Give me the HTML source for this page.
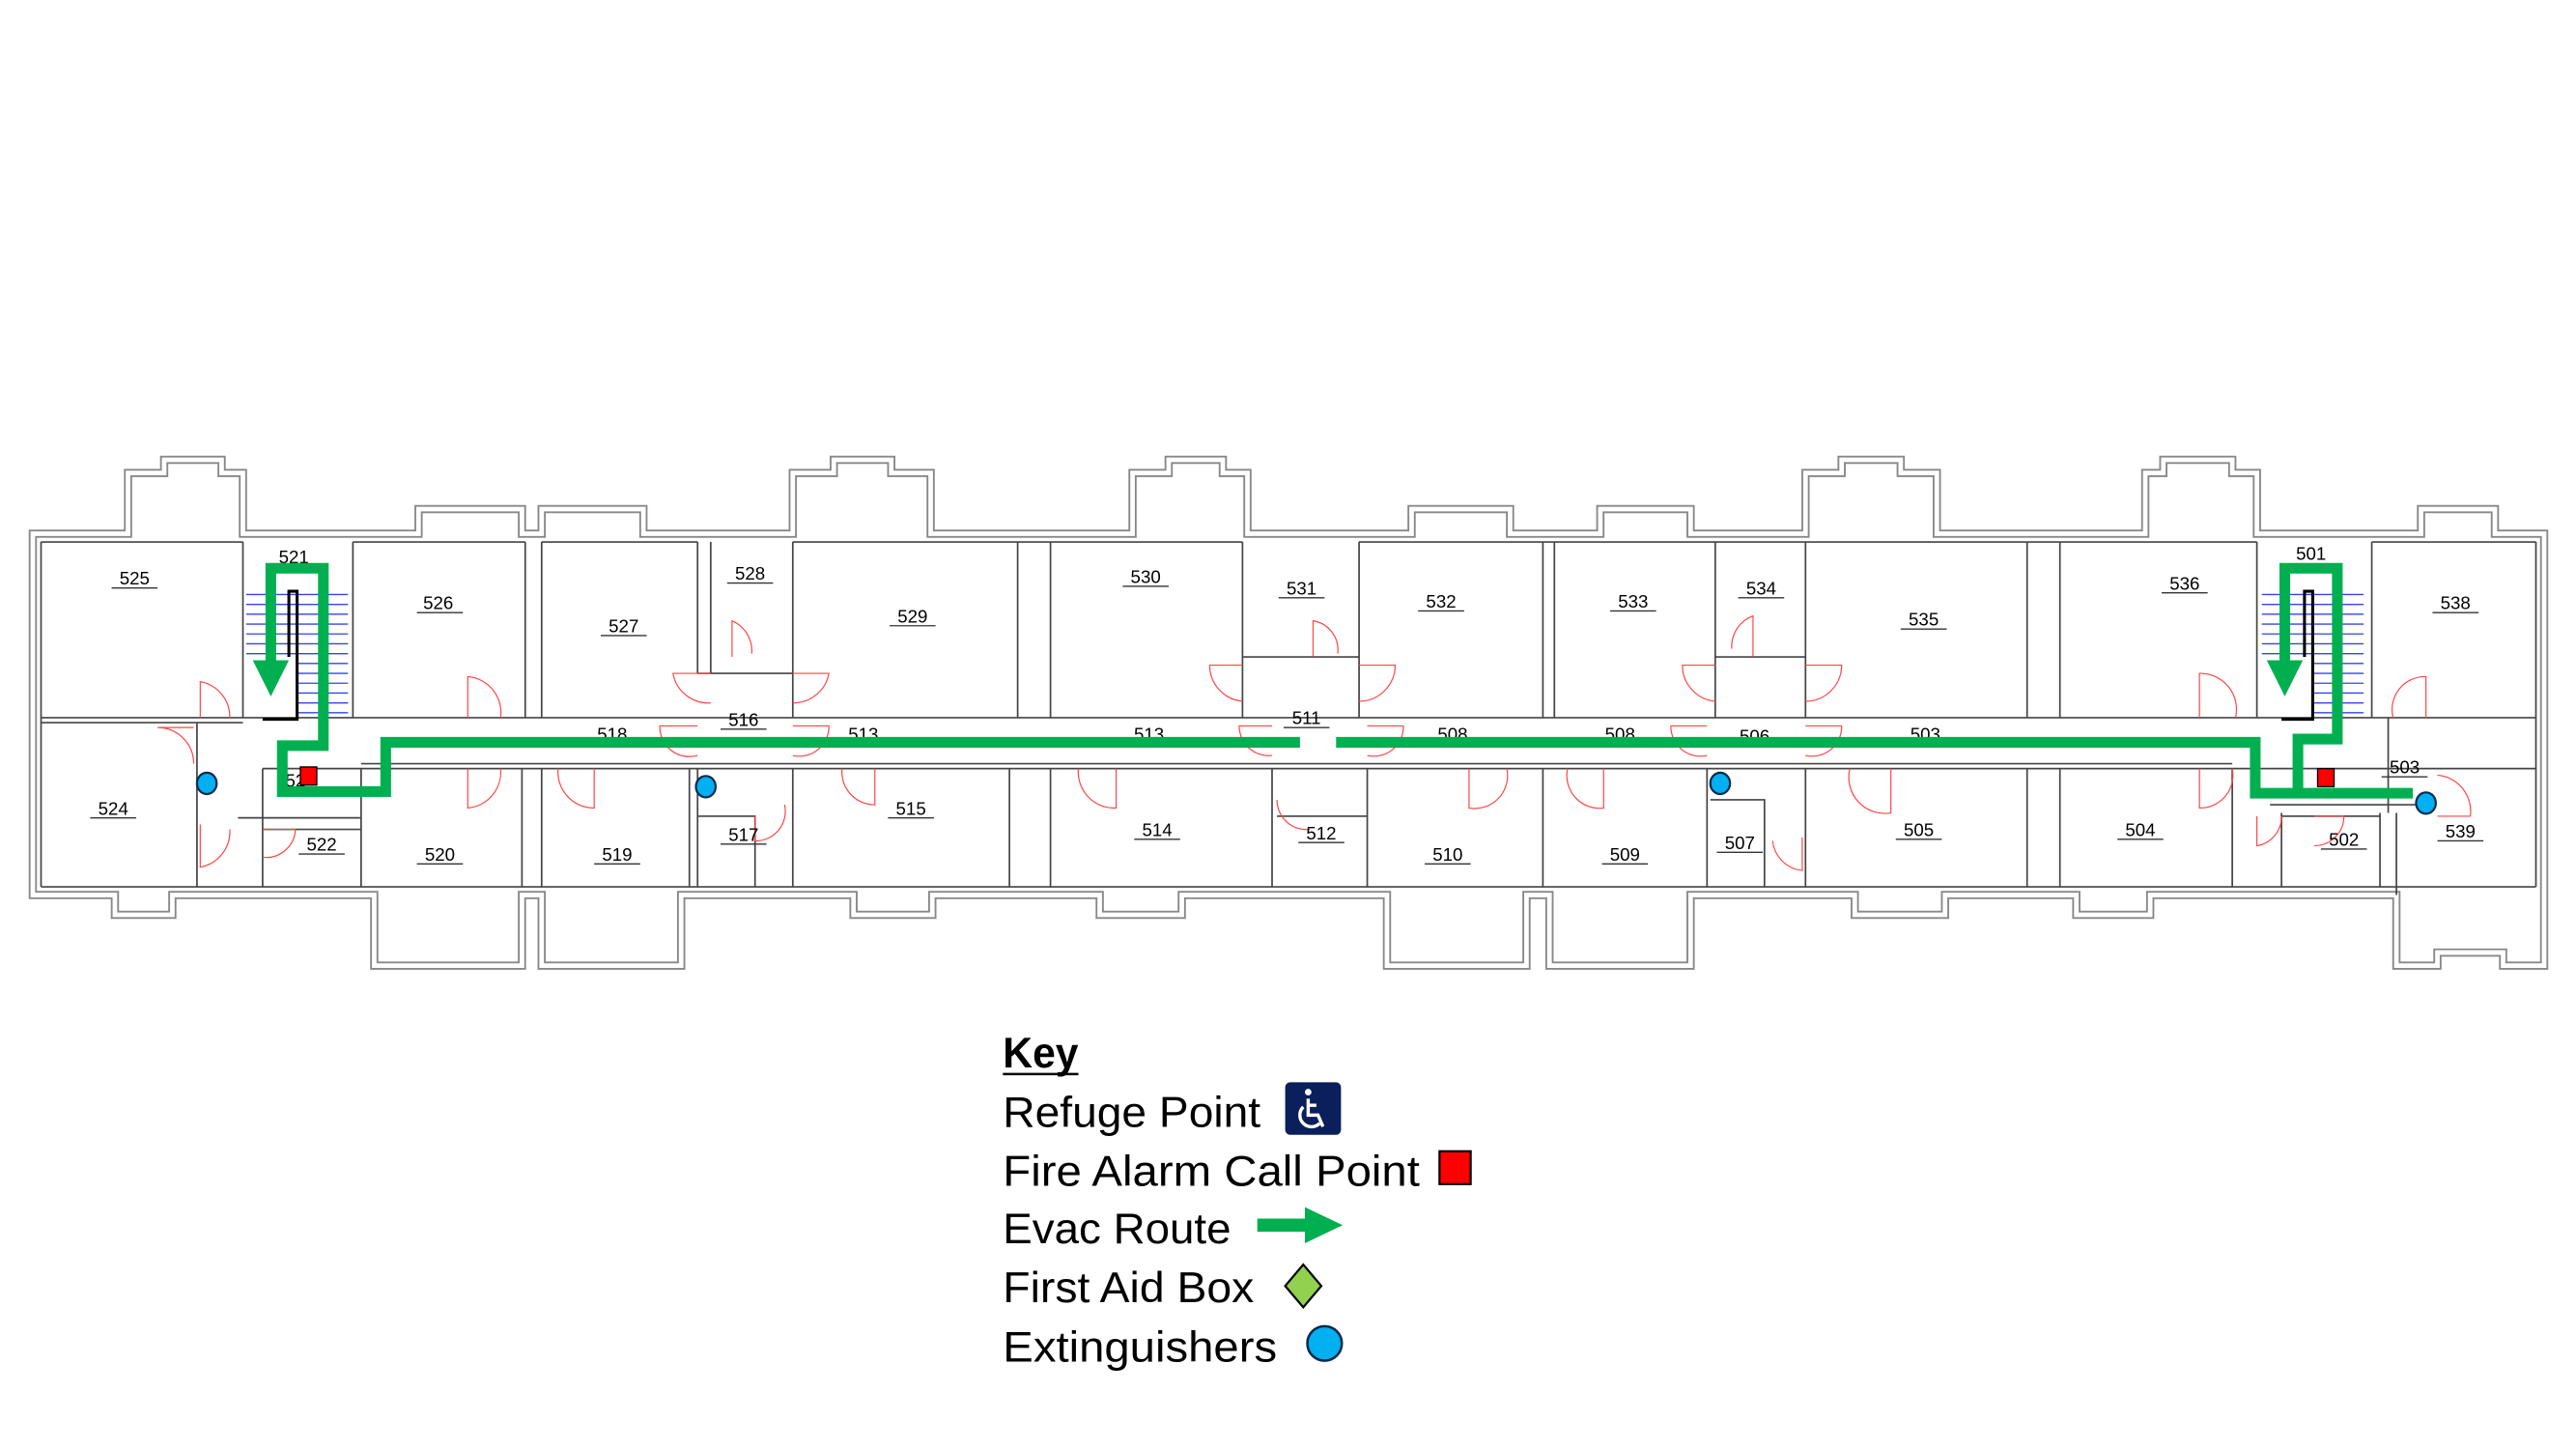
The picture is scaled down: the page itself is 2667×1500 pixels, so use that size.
<!DOCTYPE html>
<html><head><meta charset="utf-8"><style>
html,body{margin:0;padding:0;background:#fff}
svg{display:block}
text{font-family:"Liberation Sans",Arial,sans-serif}
</style></head><body>
<svg width="2667" height="1500" viewBox="0 0 1560 877" preserveAspectRatio="none" xmlns="http://www.w3.org/2000/svg">
<defs>
<path id="outer" d="M20,545 L20,325 L78,325 L78,288 L100,288 L100,280 L135,280 L135,288 L148,288 L148,325 L255,325 L255,310 L318,310 L318,325 L330,325 L330,310 L392,310 L392,325 L483,325 L483,288 L508,288 L508,280 L543,280 L543,288 L567,288 L567,325 L690,325 L690,288 L712,288 L712,280 L745,280 L745,288 L760,288 L760,325 L860,325 L860,310 L920,310 L920,325 L975,325 L975,310 L1030,310 L1030,325 L1100,325 L1100,288 L1122,288 L1122,280 L1158,280 L1158,288 L1180,288 L1180,325 L1307,325 L1307,288 L1318,288 L1318,280 L1360,280 L1360,288 L1375,288 L1375,325 L1475,325 L1475,310 L1520,310 L1520,325 L1550,325 L1550,588 L1525,588 L1525,580 L1485,580 L1485,588 L1460,588 L1460,545 L1310,545 L1310,557 L1265,557 L1265,545 L1185,545 L1185,557 L1130,557 L1130,545 L1030,545 L1030,588 L944,588 L944,545 L930,545 L930,588 L845,588 L845,545 L720,545 L720,557 L670,557 L670,545 L568,545 L568,557 L520,557 L520,545 L415,545 L415,588 L330,588 L330,545 L318,545 L318,588 L228,588 L228,545 L105,545 L105,557 L70,557 L70,545 Z"/>
</defs>
<rect width="1560" height="877" fill="#fff"/>
<g transform="scale(0.994)">
<g fill="none">
<use href="#outer" stroke="#888" stroke-width="5"/>
<use href="#outer" stroke="#fff" stroke-width="2.8"/>
</g>
<g stroke="#444" stroke-width="1" fill="none">
<path d="M25,437 H1545 M160,468 H1545 M25,440 H148 M220,465 H1360"/>
<path d="M148,330 V437 M215,330 V437 M320,330 V437 M330,330 V437 M425,330 V410 M433,330 V410 M483,330 V437 M620,330 V437 M640,330 V437 M757,330 V437 M828,330 V437 M940,330 V437 M947,330 V437 M1045,330 V437 M1100,330 V437 M1235,330 V437 M1255,330 V437 M1375,330 V437 M1445,330 V437"/>
<path d="M757,400 H828 M425,410 H483 M1045,400 H1100"/>
<path d="M120,440 V540 M160,468 V540 M220,468 V540 M318,468 V540 M330,468 V540 M420,468 V540 M425,468 V540 M483,468 V540 M615,468 V540 M640,468 V540 M775,468 V540 M833,468 V540 M940,468 V540 M1040,468 V540 M1100,468 V540 M1235,468 V540 M1255,468 V540 M1360,468 V540 M1390,495 V540 M1450,495 V540 M1460,495 V545"/>
<path d="M145,498 H220 M160,505 H220 M425,497 H460 V540 M778,497 H833 M1042,487 H1075 V540 M1383,490 H1475 M1390,497 H1450 M1455,437 V495"/>
<path d="M25,330 H148 M25,540 H1545 M1445,330 H1545 M1545,330 V540 M25,330 V540"/>
<path d="M215,330 H320 M330,330 H425 M483,330 H757 M828,330 H1375"/>
</g>
<g stroke="#3344ee" stroke-width="0.8">
<path d="M150,362 H212 M150,368 H212 M150,374 H212 M150,380 H212 M150,386 H212 M150,392 H212 M150,398 H212 M181,404 H212 M181,410 H212 M181,416 H212 M181,422 H212 M181,428 H212 M181,434 H212"/>
<path d="M1378,362 H1440 M1378,368 H1440 M1378,374 H1440 M1378,380 H1440 M1378,386 H1440 M1378,392 H1440 M1378,398 H1440 M1409,404 H1440 M1409,410 H1440 M1409,416 H1440 M1409,422 H1440 M1409,428 H1440 M1409,434 H1440"/>
</g>
<g stroke="#000" stroke-width="1.8" fill="none">
<path d="M176,400 V360 H181 V438 H160"/>
<path d="M1404,400 V360 H1409 V438 H1390"/>
</g>
<g stroke="#f44" stroke-width="0.7" fill="none">
<path d="M122,437 V415 A22,22 0 0 1 140,437"/>
<path d="M118,443 H96 A22,22 0 0 1 118,465"/>
<path d="M122,502 V528 A22,22 0 0 0 140,505"/>
<path d="M160,505 H180 A18,18 0 0 1 160,522"/>
<path d="M285,437 V412 A22,22 0 0 1 305,437"/>
<path d="M285,468 V492 A22,22 0 0 0 305,468"/>
<path d="M340,468 A22,22 0 0 0 362,492 V468"/>
<path d="M446,400 V378 A20,20 0 0 1 458,398"/>
<path d="M433,410 H410 A22,22 0 0 0 433,428 M483,410 H505 A22,22 0 0 1 483,428"/>
<path d="M425,442 H402 A18,18 0 0 0 425,460 M483,442 H505 A18,18 0 0 1 483,460"/>
<path d="M460,497 V512 A18,18 0 0 0 478,490"/>
<path d="M513,468 A20,20 0 0 0 533,490 V468"/>
<path d="M657,468 A22,22 0 0 0 680,492 V468"/>
<path d="M757,405 H737 A22,22 0 0 0 757,427 M828,405 H850 A22,22 0 0 1 828,427"/>
<path d="M800,400 V378 A18,18 0 0 1 815,398"/>
<path d="M775,442 H755 A18,18 0 0 0 775,460 M833,442 H855 A18,18 0 0 1 833,460"/>
<path d="M778,487 A18,18 0 0 0 798,505"/>
<path d="M895,468 V492 A20,20 0 0 0 918,468"/>
<path d="M955,468 A20,20 0 0 0 977,492 V468"/>
<path d="M1045,405 H1025 A22,22 0 0 0 1045,427 M1100,405 H1122 A22,22 0 0 1 1100,427"/>
<path d="M1068,400 V375 A20,20 0 0 0 1055,395"/>
<path d="M1040,442 H1018 A18,18 0 0 0 1040,460 M1100,442 H1122 A18,18 0 0 1 1100,460"/>
<path d="M1080,512 A20,20 0 0 0 1098,530 V510"/>
<path d="M1127,468 A22,22 0 0 0 1152,495 V468"/>
<path d="M1340,468 V492 A20,20 0 0 0 1360,468"/>
<path d="M1340,437 V410 A22,22 0 0 1 1362,437"/>
<path d="M1478,437 V412 A20,20 0 0 0 1458,437"/>
<path d="M1485,472 A22,22 0 0 1 1505,497 H1485"/>
<path d="M1375,497 V515 A18,18 0 0 0 1390,497"/>
<path d="M1410,497 H1428 A18,18 0 0 1 1410,515"/>
</g>
<g font-size="11" text-anchor="middle" fill="#000">
<text x="82" y="356">525</text><text x="179" y="343">521</text><text x="267" y="371">526</text><text x="380" y="385">527</text><text x="457" y="353">528</text><text x="556" y="379">529</text><text x="698" y="355">530</text><text x="793" y="362">531</text><text x="878" y="370">532</text><text x="995" y="370">533</text><text x="1073" y="362">534</text><text x="1172" y="381">535</text><text x="1331" y="359">536</text><text x="1408" y="341">501</text><text x="1496" y="371">538</text>
<text x="373" y="451">518</text><text x="453" y="442">516</text><text x="526" y="451">513</text><text x="700" y="451">513</text><text x="796" y="441">511</text><text x="885" y="451">508</text><text x="987" y="451">508</text><text x="1069" y="452">506</text><text x="1173" y="451">503</text><text x="1465" y="471">503</text>
<text x="69" y="496">524</text><text x="196" y="518">522</text><text x="268" y="524">520</text><text x="376" y="524">519</text><text x="453" y="512">517</text><text x="555" y="496">515</text><text x="705" y="509">514</text><text x="805" y="511">512</text><text x="882" y="524">510</text><text x="990" y="524">509</text><text x="1060" y="517">507</text><text x="1169" y="509">505</text><text x="1304" y="509">504</text><text x="1428" y="515">502</text><text x="1499" y="510">539</text><text x="180" y="479">52</text>
</g>
<g stroke="#333" stroke-width="0.8">
<path d="M68,358 H96 M254,373 H282 M366,387 H394 M443,355 H471 M542,381 H570 M684,357 H712 M779,364 H807 M864,372 H892 M981,372 H1009 M1059,364 H1087 M1158,383 H1186 M1317,361 H1345 M1482,373 H1510 M439,444 H467 M782,443 H810 M1451,473 H1479 M55,498 H83 M182,520 H210 M254,526 H282 M362,526 H390 M439,514 H467 M541,498 H569 M691,511 H719 M791,513 H819 M868,526 H896 M976,526 H1004 M1046,519 H1074 M1155,511 H1183 M1290,511 H1318 M1414,517 H1442 M1485,512 H1513"/>
</g>
<g fill="none" stroke="#00b050" stroke-width="6.5" stroke-linejoin="miter">
<path d="M165,405 V346 H197 V454 H172 V482 H235 V452 H792"/>
<path d="M814,452 H1374 V483 H1470"/>
<path d="M1392,405 V346 H1424 V450 H1400 V483"/>
</g>
<g fill="#00b050">
<polygon points="154,402 176,402 165,424"/>
<polygon points="1381,402 1403,402 1392,424"/>
</g>
<rect x="183" y="467" width="10" height="11" fill="#f00" stroke="#000" stroke-width="0.8"/>
<rect x="1412" y="468" width="10" height="11" fill="#f00" stroke="#000" stroke-width="0.8"/>
<g fill="#00b0f0" stroke="#0a2a4a" stroke-width="1.3">
<ellipse cx="126" cy="477" rx="6" ry="6.5"/>
<ellipse cx="430" cy="479" rx="6" ry="6.5"/>
<ellipse cx="1048" cy="477" rx="6" ry="6.5"/>
<ellipse cx="1478" cy="489" rx="6" ry="6.5"/>
</g>
<g fill="#000" font-size="26">
<text x="611" y="650" font-weight="bold" textLength="46" lengthAdjust="spacingAndGlyphs">Key</text>
<line x1="611" y1="654" x2="657" y2="654" stroke="#000" stroke-width="1.5"/>
<text x="611" y="686" textLength="157" lengthAdjust="spacingAndGlyphs">Refuge Point</text>
<text x="611" y="722" textLength="254" lengthAdjust="spacingAndGlyphs">Fire Alarm Call Point</text>
<text x="611" y="757" textLength="139" lengthAdjust="spacingAndGlyphs">Evac Route</text>
<text x="611" y="793" textLength="153" lengthAdjust="spacingAndGlyphs">First Aid Box</text>
<text x="611" y="829" textLength="167" lengthAdjust="spacingAndGlyphs">Extinguishers</text>
</g>
<rect x="783" y="659" width="34" height="32" rx="3" fill="#0a1f5c"/>
<g stroke="#fff" fill="none" stroke-width="2">
<circle cx="797" cy="665" r="2" fill="#fff" stroke="none"/>
<path d="M797,669 V679 H803 L806,686"/>
<path d="M797,673 H802"/>
<path d="M794,674 A7,7 0 1 0 804,684"/>
</g>
<rect x="877" y="701" width="19" height="20" fill="#f00" stroke="#000" stroke-width="1.3"/>
<rect x="766" y="742" width="29" height="8" fill="#00b050"/>
<polygon points="795,735 818,746 795,757" fill="#00b050"/>
<polygon points="794,770 805,783 794,796 783,783" fill="#92d050" stroke="#000" stroke-width="1.3"/>
<circle cx="807" cy="818" r="10.5" fill="#00b0f0" stroke="#0a2a4a" stroke-width="1.5"/>
</g>
</svg>
</body></html>
